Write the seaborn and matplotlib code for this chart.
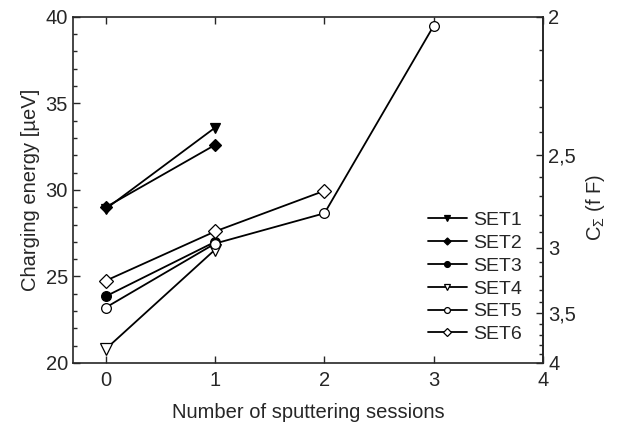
import numpy as np
import pandas as pd
import seaborn as sns
import matplotlib
matplotlib.use("Agg")
import matplotlib.pyplot as plt
from matplotlib.ticker import FixedLocator, MultipleLocator, FuncFormatter

# Charging energy (ueV) vs number of sputtering sessions
series_names = ["SET1", "SET2", "SET3", "SET4", "SET5", "SET6"]
set1_x = [0, 1]
set1_y = [28.9, 33.6]
set2_x = [0, 1]
set2_y = [29.0, 32.6]
set3_x = [0, 1]
set3_y = [23.85, 27.0]
set4_x = [0, 1]
set4_y = [20.8, 26.55]
set5_x = [0, 1, 2, 3]
set5_y = [23.2, 26.9, 28.65, 39.5]
set6_x = [0, 1, 2]
set6_y = [24.75, 27.6, 29.95]

xs = [set1_x, set2_x, set3_x, set4_x, set5_x, set6_x]
ys = [set1_y, set2_y, set3_y, set4_y, set5_y, set6_y]
markers = ["v", "D", "o", "v", "o", "D"]
filled = [True, True, True, False, False, False]
sizes = [7, 6, 7, 8, 7, 7]

df = pd.concat(
    [pd.DataFrame({"session": x, "energy": y, "set": n}) for n, x, y in zip(series_names, xs, ys)],
    ignore_index=True,
)

sns.set_style("ticks")
plt.rcParams["font.family"] = ["Liberation Sans", "DejaVu Sans"]
plt.rcParams["mathtext.fontset"] = "custom"
plt.rcParams["mathtext.rm"] = "Liberation Sans"
plt.rcParams["mathtext.it"] = "Liberation Sans"

fs = 14.5
fig = plt.figure(figsize=(6.18, 4.22), dpi=100)
ax = fig.add_axes([0.118, 0.140, 0.761, 0.820])

for name, m, f, s in zip(series_names, markers, filled, sizes):
    sub = df[df["set"] == name]
    sns.lineplot(data=sub, x="session", y="energy", ax=ax, color="black", lw=1.3,
                 marker=m, markersize=s, markerfacecolor="black" if f else "white",
                 markeredgecolor="black", markeredgewidth=0.9, label=name)

ax.set_xlim(-0.3, 4)
ax.set_ylim(20, 40)
ax.set_xticks([0, 1, 2, 3, 4])
ax.set_yticks([20, 25, 30, 35, 40])
ax.yaxis.set_minor_locator(MultipleLocator(1))
ax.set_xlabel("Number of sputtering sessions", fontsize=fs, labelpad=9)
ax.set_ylabel("Charging energy [\u00b5eV]", fontsize=fs, labelpad=4)
ax.tick_params(axis="both", which="both", direction="in", labelsize=fs)
ax.tick_params(axis="x", top=True, length=5, width=1, pad=6)
ax.tick_params(axis="y", which="major", length=5, width=1)
ax.tick_params(axis="y", which="minor", length=3, width=1)
for sp in ax.spines.values():
    sp.set_linewidth(1.2)

# right axis: total capacitance, E = e^2 / 2C -> E[ueV] = 80 / C[fF]
sec = ax.secondary_yaxis("right", functions=(lambda e: 80.0 / np.asarray(e, float),
                                              lambda c: 80.0 / np.asarray(c, float)))
sec.yaxis.set_major_locator(FixedLocator([2, 2.5, 3, 3.5, 4]))
sec.yaxis.set_minor_locator(FixedLocator(np.round(np.arange(2.1, 4.0, 0.1), 2)))
sec.yaxis.set_major_formatter(FuncFormatter(lambda v, p: f"{v:g}".replace(".", ",")))
sec.tick_params(axis="y", which="both", direction="in", labelsize=fs)
sec.tick_params(axis="y", which="major", length=5, width=1)
sec.tick_params(axis="y", which="minor", length=3, width=1)
sec.spines["right"].set_linewidth(1.2)
sec.set_ylabel("C$_{\\Sigma}$ (f F)", fontsize=fs, labelpad=6)
sec.yaxis.label.set_y(0.45)

ax.legend(loc="upper left", bbox_to_anchor=(0.755, 0.438), frameon=False, fontsize=14,
          handlelength=2.0, handletextpad=0.3, labelspacing=0.27, markerscale=0.6,
          borderpad=0, borderaxespad=0)

fig.savefig("out.png", dpi=100)
